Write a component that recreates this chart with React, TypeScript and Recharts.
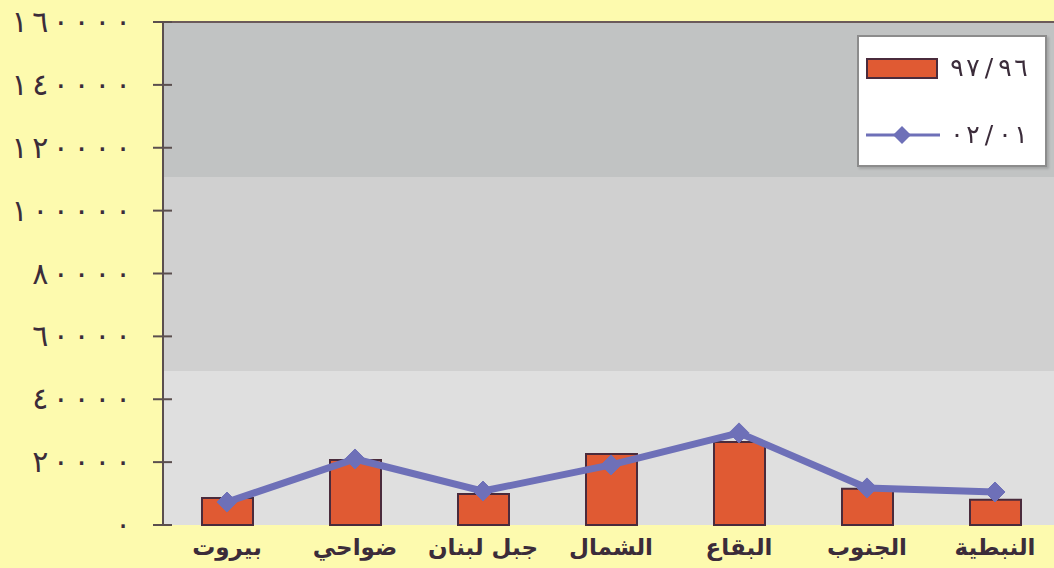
import React from "react";
import {
  ComposedChart,
  Bar,
  Line,
  XAxis,
  YAxis,
  ReferenceArea,
  ReferenceLine,
} from "recharts";

const regions = ["بيروت", "ضواحي", "جبل لبنان", "الشمال", "البقاع", "الجنوب", "النبطية"];
const season9697 = [8600, 20700, 9900, 22600, 26400, 11500, 8000];
const season0102 = [7300, 21000, 10800, 19100, 29300, 11800, 10500];
const yTicks = [0, 20000, 40000, 60000, 80000, 100000, 120000, 140000, 160000];
const bandEdges = [0, 49000, 110700, 160000];
const bandColors = ["#DFDFDF", "#D0D0D0", "#C1C3C3"];
const legendLabels = ["٩٧/٩٦", "٠٢/٠١"];

const data = regions.map((name, i) => ({
  name,
  a: season9697[i],
  b: season0102[i],
}));

const toArabicDigits = (n: number) =>
  String(n).replace(/\d/g, (d) => "٠١٢٣٤٥٦٧٨٩"[+d]);

const BAR_COLOR = "#E05A33";
const BAR_EDGE = "#4A2B3C";
const LINE_COLOR = "#6E70B8";
const TEXT = "#3B2C3A";
const FONT = "DejaVu Sans";

// chrome won't letter-space arabic text, so the wide digit spacing is done per glyph
const SpacedText = ({ text, right, y, step, size }: any) => {
  const chars = Array.from(text as string);
  return (
    <g fill={TEXT} fontSize={size} fontFamily={FONT}>
      {chars.map((c, i) => (
        <text key={i} x={right - (chars.length - 1 - i) * step} y={y} textAnchor="middle">
          {c}
        </text>
      ))}
    </g>
  );
};

const YTick = (props: any) => {
  const { x, y, payload } = props;
  const axisX = x + 12;
  return (
    <g>
      <line x1={axisX - 10} x2={axisX + 9} y1={y} y2={y} stroke="#5A4E4E" strokeWidth={2} />
      <SpacedText text={toArabicDigits(payload.value)} right={axisX - 40} y={y + 10} step={20.7} size={30} />
    </g>
  );
};

const XTick = (props: any) => {
  const { x, y, payload } = props;
  return (
    <text
      x={x}
      y={y}
      dy={22}
      textAnchor="middle"
      fill={TEXT}
      fontSize={23}
      fontWeight="bold"
      fontFamily={FONT}
    >
      {payload.value}
    </text>
  );
};

const Diamond = (props: any) => {
  const { cx, cy } = props;
  if (cx == null || cy == null) return null;
  const r = 10;
  return (
    <path
      d={`M${cx},${cy - r} L${cx + r},${cy} L${cx},${cy + r} L${cx - r},${cy} Z`}
      fill={LINE_COLOR}
      stroke={LINE_COLOR}
    />
  );
};

const LegendBox = () => (
  <svg
    width={194}
    height={136}
    style={{ position: "absolute", left: 856, top: 34, filter: "drop-shadow(2px 2px 1px rgba(0,0,0,0.15))" }}
  >
    <rect x={2} y={2} width={188} height={130} fill="#fff" stroke="#8C8C8C" strokeWidth={2} />
    <rect x={11} y={25} width={70} height={19} fill={BAR_COLOR} stroke={BAR_EDGE} strokeWidth={2} />
    <SpacedText text={legendLabels[0]} right={165} y={42} step={16} size={25} />
    <line x1={10} x2={84} y1={101} y2={101} stroke={LINE_COLOR} strokeWidth={3} />
    <path d="M46,92 L55,101 L46,110 L37,101 Z" fill={LINE_COLOR} />
    <SpacedText text={legendLabels[1]} right={165} y={109} step={16} size={25} />
  </svg>
);

export default function App() {
  return (
    <div
      style={{
        position: "absolute",
        left: 0,
        top: 0,
        width: 1054,
        height: 568,
        overflow: "hidden",
        background: "#FDFAAE",
      }}
    >
      <ComposedChart
        width={1060}
        height={568}
        data={data}
        margin={{ top: 22, right: 1, bottom: 0, left: 8 }}
        barCategoryGap="30%"
      >
        {bandColors.map((c, i) => (
          <ReferenceArea
            key={`band-${i}`}
            y1={bandEdges[i]}
            y2={bandEdges[i + 1]}
            fill={c}
            fillOpacity={1}
            stroke="none"
          />
        ))}
        <ReferenceLine y={160000} stroke="#6B5A5A" strokeWidth={2} />
        <XAxis
          dataKey="name"
          interval={0}
          tickLine={false}
          axisLine={false}
          height={43}
          tick={<XTick />}
        />
        <XAxis
          xAxisId="edges"
          type="number"
          domain={[0, regions.length]}
          ticks={regions.map((_, i) => i).concat(regions.length)}
          tickSize={12}
          tickLine={{ stroke: "#5A4E4E", strokeWidth: 2 }}
          axisLine={{ stroke: "#7A7070", strokeWidth: 3 }}
          tick={false}
          height={0}
          allowDataOverflow
        />
        <YAxis
          width={155}
          domain={[0, 160000]}
          ticks={yTicks}
          interval={0}
          tickLine={false}
          tickSize={10}
          axisLine={{ stroke: "#5A4E4E", strokeWidth: 2 }}
          tick={<YTick />}
        />
        <Bar
          dataKey="a"
          fill={BAR_COLOR}
          stroke={BAR_EDGE}
          strokeWidth={2}
          barSize={51}
          isAnimationActive={false}
        />
        <Line
          dataKey="b"
          stroke={LINE_COLOR}
          strokeWidth={7}
          dot={<Diamond />}
          activeDot={false}
          isAnimationActive={false}
        />
      </ComposedChart>
      <LegendBox />
    </div>
  );
}
